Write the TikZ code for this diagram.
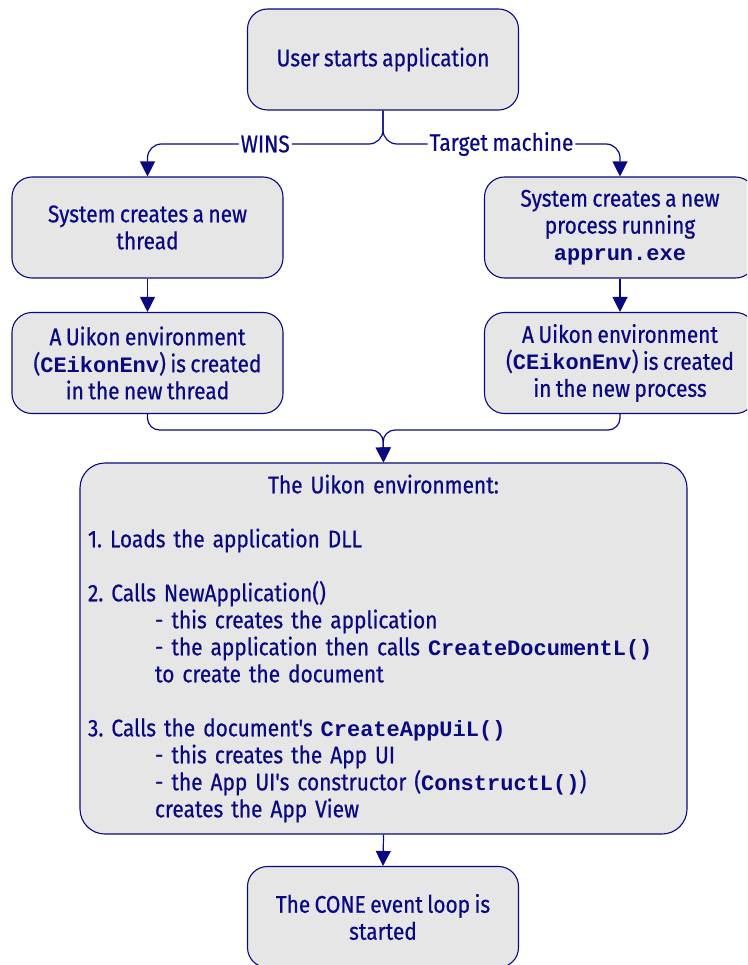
\documentclass[tikz,border=0pt]{standalone}
\usepackage{fontspec}
\setmainfont{Fira Sans}[FakeStretch=0.87, FakeBold=0.6, Ligatures=TeXOff, WordSpace=0.8]
\setmonofont{Liberation Mono}
\usetikzlibrary{arrows.meta}
\definecolor{ink}{RGB}{10,10,128}
\definecolor{boxfill}{RGB}{230,230,230}
\newcommand{\code}[1]{{\fontsize{22}{27}\ttfamily\bfseries #1}}
\newcommand{\ind}{\hspace*{67pt}}
\frenchspacing
\tikzset{
  mainfs/.style={font=\fontsize{24}{27}\selectfont},
  box/.style={draw=ink, line width=1.1pt, fill=boxfill, rounded corners=20pt,
    minimum width=271pt, minimum height=101pt, align=center, text=ink,
    inner sep=0pt, mainfs},
  conn/.style={draw=ink, line width=1.2pt, -{Triangle[length=15pt,width=15pt]}},
  lab/.style={fill=white, text=ink, inner xsep=2pt, inner ysep=1pt, mainfs}
}
\begin{document}
\begin{tikzpicture}[x=1pt,y=-1pt]
\useasboundingbox (0,0) rectangle (747,965);
\clip (0,0) rectangle (747,965);
\fill[white] (0,0) rectangle (747,965);

\node[box] (top) at (383,59.5) {User starts application};
\node[box] (lt1) at (147.5,227.5) {System creates a new\\thread};
\node[box] (lt2) at (147.5,363) {A Uikon environment\\(\code{CEikonEnv}) is created\\in the new thread};
\node[box] (rt1) at (620,227.5) {System creates a new\\process running\\\code{apprun.exe}};
\node[box] (rt2) at (620,363) {A Uikon environment\\(\code{CEikonEnv}) is created\\in the new process};
\node[box, rounded corners=25pt, minimum width=607pt, minimum height=371pt,
      text width=591pt, align=left] (big) at (383.5,648.5)
 {\makebox[591pt][c]{The Uikon environment:}\\[27pt]
  1. Loads the application DLL\\[27pt]
  2. Calls NewApplication()\\
  \ind- this creates the application\\
  \ind- the application then calls \code{CreateDocumentL()}\\
  \ind to create the document\\[27pt]
  3. Calls the document's \code{CreateAppUiL()}\\
  \ind- this creates the App UI\\
  \ind- the App UI's constructor (\code{ConstructL()})\\
  \ind creates the App View};
\node[box] (cone) at (383,917) {The CONE event loop is\\started};

\draw[conn, rounded corners=14pt] (top.south) -- (383,144)
  -- node[lab, pos=0.5] {WINS} (147.5,144) -- (lt1.north);
\draw[conn, rounded corners=14pt] (top.south) -- (383,144)
  -- node[lab, pos=0.5] {Target machine} (620,144) -- (rt1.north);
\draw[conn] (lt1.south) -- (lt2.north);
\draw[conn] (rt1.south) -- (rt2.north);
\draw[conn, rounded corners=12pt] (lt2.south) -- (147.5,430) -- (383,430) -- (big.north);
\draw[conn, rounded corners=12pt] (rt2.south) -- (620,430) -- (383,430) -- (big.north);
\draw[conn] (big.south) -- (cone.north);
\end{tikzpicture}
\end{document}
